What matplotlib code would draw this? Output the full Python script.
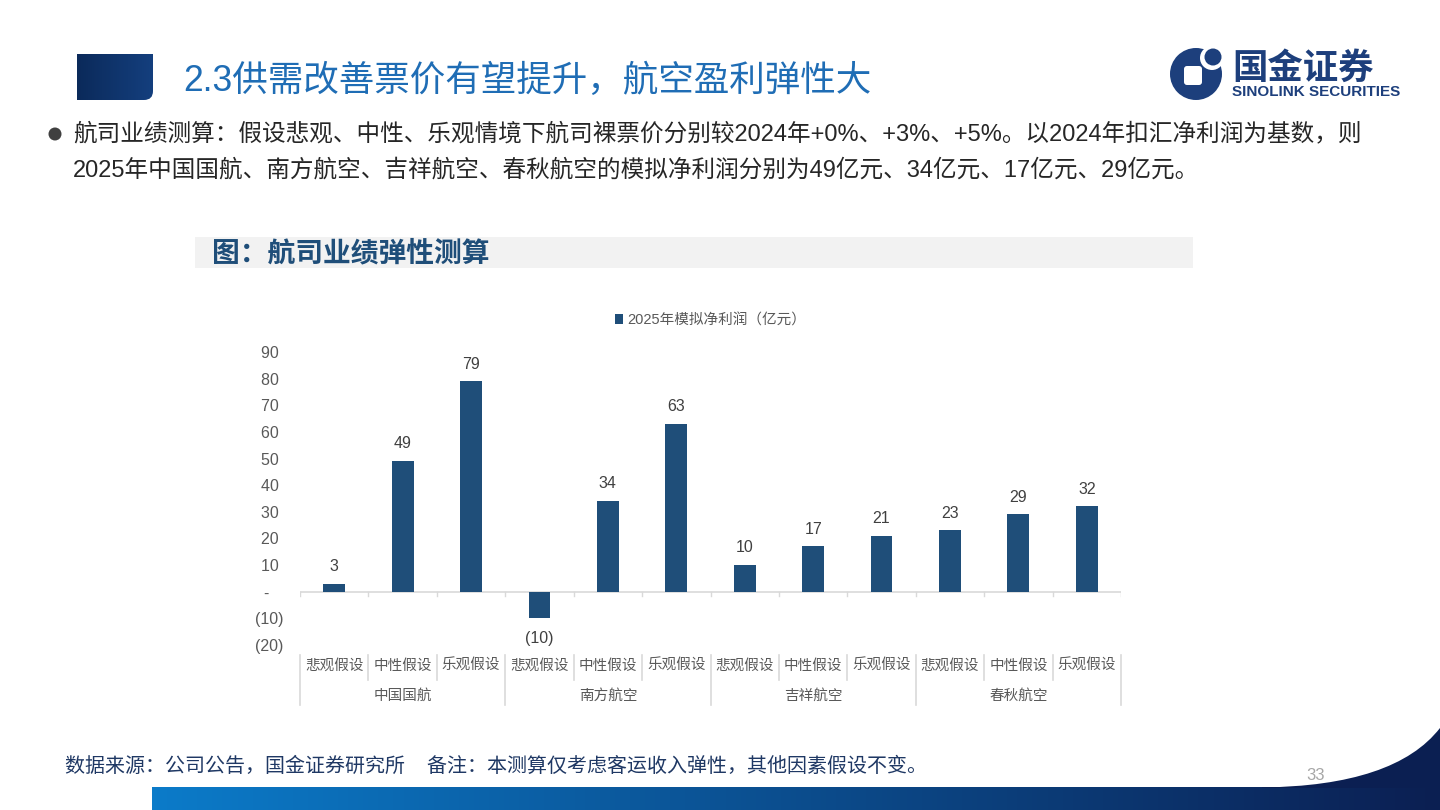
import numpy as np
import matplotlib
matplotlib.use("Agg")
import matplotlib.pyplot as plt
from matplotlib.patches import Rectangle, Circle, FancyBboxPatch, PathPatch
from matplotlib.path import Path
from matplotlib.colors import LinearSegmentedColormap
import matplotlib.transforms as mtransforms

plt.rcParams['font.family'] = ['Liberation Sans', 'Noto Sans CJK SC', 'DejaVu Sans']

# 数据
companies = ['中国国航', '南方航空', '吉祥航空', '春秋航空']
scenarios = ['悲观假设', '中性假设', '乐观假设']
profit_2025 = [3, 49, 79, -10, 34, 63, 10, 17, 21, 23, 29, 32]
value_labels = ['3', '49', '79', '(10)', '34', '63', '10', '17', '21', '23', '29', '32']
y_ticks = [-20, -10, 0, 10, 20, 30, 40, 50, 60, 70, 80, 90]
y_ticklabels = ['(20)', '(10)', '-   ', '10 ', '20 ', '30 ', '40 ', '50 ', '60 ', '70 ', '80 ', '90 ']
legend_label = '2025年模拟净利润（亿元）'

bar_color = '#1f4e79'
tick_color = '#595959'

fig = plt.figure(figsize=(14.4, 8.1), dpi=100)

# 页面装饰层（像素坐标）
bg = fig.add_axes([0, 0, 1, 1])
bg.set_xlim(0, 1440)
bg.set_ylim(810, 0)
bg.axis('off')


def gradient_box(ax, x0, x1, y0, y1, c0, c1, clip=None, zorder=1):
    cmap = LinearSegmentedColormap.from_list('g', [c0, c1])
    grad = np.linspace(0, 1, 256).reshape(1, -1)
    im = ax.imshow(grad, cmap=cmap, extent=(x0, x1, y1, y0), aspect='auto', zorder=zorder)
    if clip is not None:
        im.set_clip_path(clip)
    return im


# 左上角色块（仅右下角圆角）
r = 9
bverts = [(77, 54), (153, 54), (153, 100 - r), (153, 100), (153 - r, 100), (77, 100), (77, 54)]
bcodes = [Path.MOVETO, Path.LINETO, Path.LINETO, Path.CURVE3, Path.CURVE3, Path.LINETO, Path.CLOSEPOLY]
box = PathPatch(Path(bverts, bcodes), facecolor='none', edgecolor='none')
bg.add_patch(box)
gradient_box(bg, 77, 153, 54, 100, '#0b2a5a', '#143f7e', clip=box)

bg.text(183, 81, '2.3供需改善票价有望提升，航空盈利弹性大', fontsize=25.6,
        color='#1f6db5', va='center', ha='left')

# 标志
bg.add_patch(Circle((1196, 74), 26, facecolor='#1d3f7c', edgecolor='none', zorder=2))
bg.add_patch(Circle((1212, 58), 12, facecolor='white', edgecolor='none', zorder=3))
bg.add_patch(Circle((1213, 57), 8.5, facecolor='#1d3f7c', edgecolor='none', zorder=4))
bg.add_patch(FancyBboxPatch((1184, 66), 18, 19, boxstyle='round,pad=0,rounding_size=3',
                            facecolor='white', edgecolor='none', zorder=4))
bg.text(1232, 69, '国金证券', fontsize=25.5, fontweight='bold', color='#1d3f7c',
        va='center', ha='left')
bg.text(1232, 92, 'SINOLINK SECURITIES', fontsize=11, fontweight='bold', color='#1d3f7c',
        va='center', ha='left')

# 正文要点
bg.add_patch(Circle((55, 134), 6.5, facecolor='#404040', edgecolor='none'))
body_color = '#262626'
bg.text(73, 134, '航司业绩测算：假设悲观、中性、乐观情境下航司裸票价分别较2024年+0%、+3%、+5%。以2024年扣汇净利润为基数，则',
        fontsize=17, color=body_color, va='center', ha='left')
bg.text(73, 170, '2025年中国国航、南方航空、吉祥航空、春秋航空的模拟净利润分别为49亿元、34亿元、17亿元、29亿元。',
        fontsize=17, color=body_color, va='center', ha='left')

# 图标题
bg.add_patch(Rectangle((195, 237), 998, 31, facecolor='#f2f2f2', edgecolor='none'))
bg.text(212, 254, '图：航司业绩弹性测算', fontsize=20, fontweight='bold', color='#1f4e79',
        va='center', ha='left')

# 脚注
bg.text(65, 766, '数据来源：公司公告，国金证券研究所    备注：本测算仅考虑客运收入弹性，其他因素假设不变。',
        fontsize=14.4, color='#1f3864', va='center', ha='left', style='italic')
bg.text(1316, 775, '33', fontsize=12, color='#a6a6a6', va='center', ha='center')

# 底部色带
band = Rectangle((152, 787), 1288, 23, facecolor='none', edgecolor='none')
bg.add_patch(band)
gradient_box(bg, 152, 1440, 787, 810, '#0b7bc9', '#0b1f52', clip=band)
verts = [(1262, 787.5), (1395, 786), (1440, 728), (1440, 788), (1262, 788), (1262, 787.5)]
codes = [Path.MOVETO, Path.CURVE3, Path.CURVE3, Path.LINETO, Path.LINETO, Path.CLOSEPOLY]
bg.add_patch(PathPatch(Path(verts, codes), facecolor='#0b1f52', edgecolor='none', zorder=3))

# 柱状图
ax = fig.add_axes([300 / 1440, (810 - 645) / 810, 821 / 1440, 293 / 810])
ax.set_facecolor('none')
x = np.arange(len(profit_2025))
bars = ax.bar(x, profit_2025, width=0.32, color=bar_color, label=legend_label, zorder=3)

ax.set_xlim(-0.5, len(profit_2025) - 0.5)
ax.set_ylim(-20, 90)
ax.set_yticks(y_ticks)
ax.set_yticklabels(y_ticklabels)
ax.tick_params(axis='y', length=0, labelsize=11.5, labelcolor=tick_color, pad=12)
ax.set_xticks([])
for s in ['top', 'right', 'left', 'bottom']:
    ax.spines[s].set_visible(False)

# 零轴及刻度
ax.axhline(0, color='#d9d9d9', lw=1.2, zorder=2)
for b in np.arange(-0.5, len(profit_2025), 1.0):
    ax.plot([b, b], [0, -1.5], color='#d9d9d9', lw=1.0, zorder=2)

# 数据标签
for xi, v, lab in zip(x, profit_2025, value_labels):
    if v >= 0:
        ax.annotate(lab, (xi, v), xytext=(0, 7), textcoords='offset points',
                    ha='center', va='bottom', fontsize=11.5, color='#404040')
    else:
        ax.annotate(lab, (xi, v), xytext=(0, -9), textcoords='offset points',
                    ha='center', va='top', fontsize=11.5, color='#404040')

# 多级分类轴
trans = mtransforms.blended_transform_factory(ax.transData, ax.transAxes)
line_c = '#d9d9d9'
for i in range(len(profit_2025) + 1):
    b = i - 0.5
    if i % 3 == 0:
        ax.plot([b, b], [-0.034, -0.205], color=line_c, lw=1.2, transform=trans, clip_on=False)
    else:
        ax.plot([b, b], [-0.034, -0.12], color=line_c, lw=1.2, transform=trans, clip_on=False)
for i in range(len(profit_2025)):
    ax.text(i, -0.072, scenarios[i % 3], transform=trans, ha='center', va='center',
            fontsize=10.5, color=tick_color)
for j, c in enumerate(companies):
    ax.text(3 * j + 1, -0.172, c, transform=trans, ha='center', va='center',
            fontsize=10.5, color=tick_color)

# 图例
leg = ax.legend(loc='lower center', bbox_to_anchor=(0.5, 1.04), frameon=False,
                fontsize=10.5, handlelength=0.6, handleheight=0.6, handletextpad=0.3)
for t in leg.get_texts():
    t.set_color(tick_color)

fig.savefig('out.png', dpi=100)
